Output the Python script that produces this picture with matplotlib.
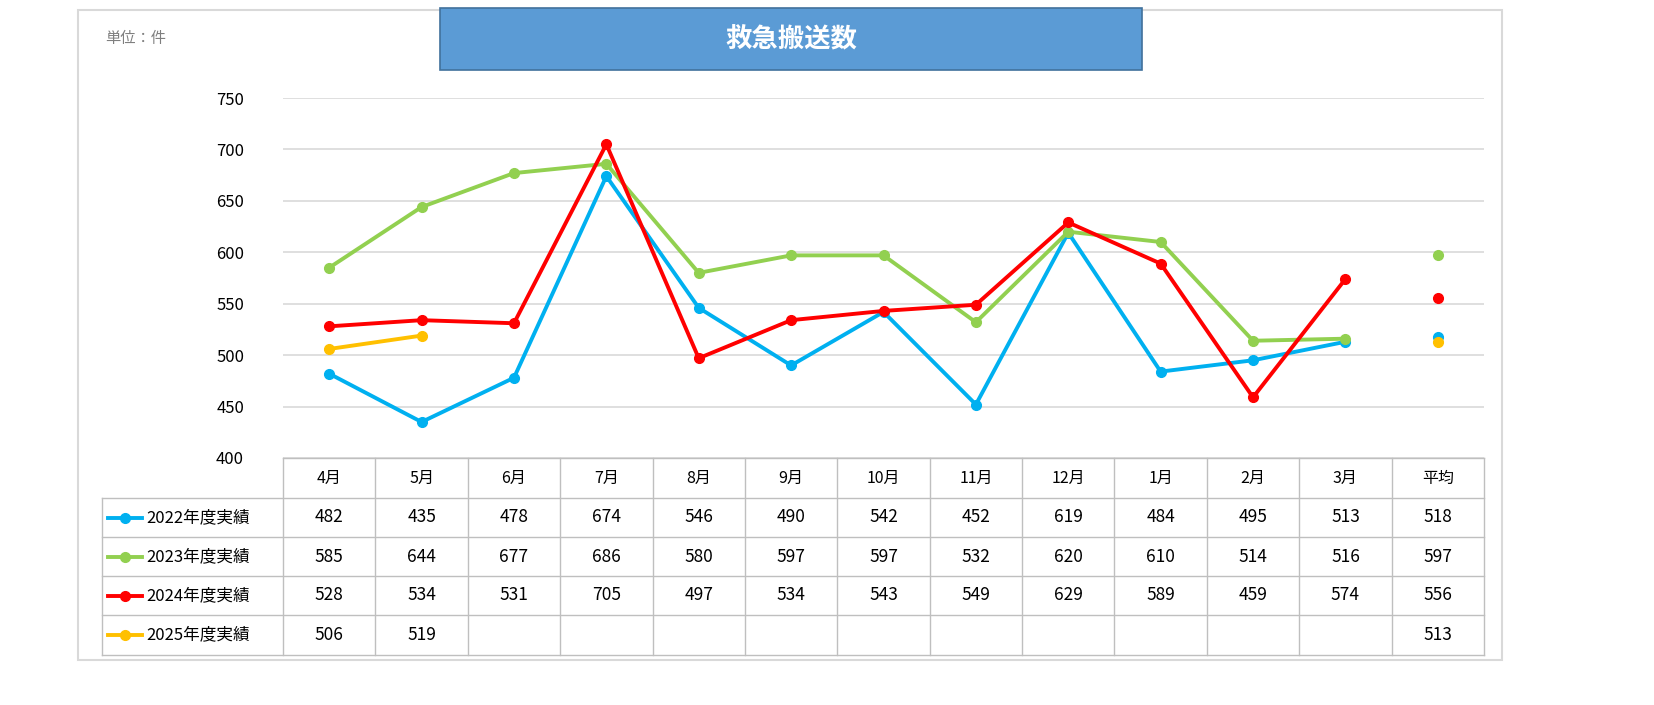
import matplotlib.pyplot as plt
import numpy as np
from matplotlib.patches import Rectangle

plt.rcParams["font.family"] = ["Noto Sans CJK JP", "DejaVu Sans"]

months = ["4月", "5月", "6月", "7月", "8月", "9月", "10月", "11月", "12月", "1月", "2月", "3月"]
avg_label = "平均"
series_names = ["2022年度実績", "2023年度実績", "2024年度実績", "2025年度実績"]
v2022 = [482, 435, 478, 674, 546, 490, 542, 452, 619, 484, 495, 513]
v2023 = [585, 644, 677, 686, 580, 597, 597, 532, 620, 610, 514, 516]
v2024 = [528, 534, 531, 705, 497, 534, 543, 549, 629, 589, 459, 574]
v2025 = [506, 519]
averages = [518, 597, 556, 513]
colors = ["#00B0F0", "#92D050", "#FF0000", "#FFC000"]
yticks = [400, 450, 500, 550, 600, 650, 700, 750]

W, H = 1654, 705
fig = plt.figure(figsize=(W / 100, H / 100), dpi=100)


def fx(px):
    return px / W


def fy(py):
    return 1 - py / H


# outer frame
fig.patches.append(Rectangle((fx(78), fy(660)), fx(1502 - 78), (660 - 10) / H,
                             transform=fig.transFigure, fill=False,
                             edgecolor="#D9D9D9", linewidth=1.5))
# title box
fig.patches.append(Rectangle((fx(440), fy(70)), fx(1142 - 440), 62 / H,
                             transform=fig.transFigure, facecolor="#5B9BD5",
                             edgecolor="#41719C", linewidth=1.2))
fig.text(fx(791), fy(40), "救急搬送数", color="white", fontsize=19,
         fontweight="bold", ha="center", va="center")
fig.text(fx(105), fy(38), "単位：件", color="#7F7F7F", fontsize=11, va="center")

x0, x1 = 283, 1484
ytop, ybot = 98, 458
ax = fig.add_axes([fx(x0), fy(ybot), fx(x1 - x0), (ybot - ytop) / H])
ax.set_xlim(0, 13)
ax.set_ylim(400, 750)
ax.set_yticks(yticks)
ax.set_xticks([])
ax.grid(axis="y", color="#D9D9D9", linewidth=1.2)
ax.set_axisbelow(True)
for s in ax.spines.values():
    s.set_visible(False)
ax.tick_params(axis="y", length=0, labelsize=12, pad=28)

all_series = [v2022, v2023, v2024, v2025]
for vals, c in zip(all_series, colors):
    xs = np.arange(len(vals)) + 0.5
    ax.plot(xs, vals, color=c, linewidth=2.8, marker="o", markersize=7,
            solid_capstyle="round", clip_on=False)
for avg, c in zip(averages, colors):
    ax.plot([12.5], [avg], "o", color=c, markersize=7)

# table
tab = fig.add_axes([fx(0), fy(H), 1, 1])
tab.set_xlim(0, W)
tab.set_ylim(H, 0)
tab.axis("off")
cw = (x1 - x0) / 13
rows = [458, 498, 537, 576, 615, 655]
lc = "#BFBFBF"
for k in range(14):
    x = x0 + k * cw
    tab.plot([x, x], [458, 655], color=lc, linewidth=1)
tab.plot([102, 102], [498, 655], color=lc, linewidth=1)
tab.plot([x0, x1], [458, 458], color=lc, linewidth=1)
for y in rows[1:]:
    tab.plot([102, x1], [y, y], color=lc, linewidth=1)

labels = months + [avg_label]
for k, lab in enumerate(labels):
    tab.text(x0 + (k + 0.5) * cw, 478, lab, ha="center", va="center", fontsize=11.5)

for r, (name, vals, avg, c) in enumerate(zip(series_names, all_series, averages, colors)):
    yc = (rows[r + 1] + rows[r + 2]) / 2
    tab.plot([108, 142], [yc, yc], color=c, linewidth=2.8)
    tab.plot([125], [yc], "o", color=c, markersize=7)
    tab.text(146, yc, name, ha="left", va="center", fontsize=12)
    for k, v in enumerate(vals):
        tab.text(x0 + (k + 0.5) * cw, yc, str(v), ha="center", va="center", fontsize=12.5)
    tab.text(x0 + 12.5 * cw, yc, str(avg), ha="center", va="center", fontsize=12.5)

fig.savefig("out.png", dpi=100)
